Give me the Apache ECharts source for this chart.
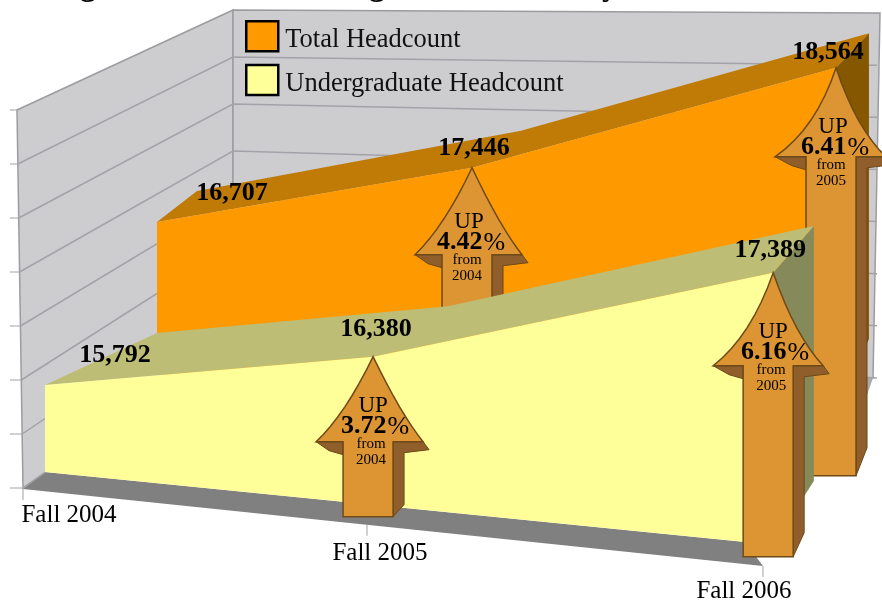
<!DOCTYPE html>
<html>
<head>
<meta charset="utf-8">
<style>
html, body { margin: 0; padding: 0; background: #fff; }
#main { width: 882px; height: 602px; }
</style>
<script src="https://cdn.jsdelivr.net/npm/echarts@6/dist/echarts.min.js"></script>
</head>
<body>
<div id="main"></div>
<script>
// chart data
var categories = ['Fall 2004', 'Fall 2005', 'Fall 2006'];
var totalHeadcount = [16707, 17446, 18564];
var undergradHeadcount = [15792, 16380, 17389];
var totalChange = [null, '4.42', '6.41'];
var undergradChange = [null, '3.72', '6.16'];
var changeFrom = [null, '2004', '2005'];
var seriesNames = ['Total Headcount', 'Undergraduate Headcount'];

var SERIF = '"Liberation Serif", serif';
var FLAT_MIN = 14550, FLAT_MAX = 20570; // flat value axis, 0.1 px per head over the 602px grid
var W = 882, H = 602;

// perspective planes: x(t) = (a*t + x0) / (1 + g*t), floor line y0..y1,
// height = flat height * scale / (1 + hg*t)
var undergradFront = { x0: 45, a: 589, g: -0.18, y0: 472, y1: 544.8, scale: 0.7005, hg: -0.269 };
var undergradBack = { x0: 157, a: 490, g: -0.205, y0: 412, y1: 481, scale: 0.636, hg: -0.292 };
var totalFront = { x0: 157, a: 566.5, g: -0.1346, y0: 375, y1: 414, scale: 0.709, hg: -0.178 };
var totalBack = { x0: 197, a: 612, g: -0.069, y0: 336, y1: 339, scale: 0.672, hg: -0.118 };
var floorFront = { x0: 23, a: 639.8, g: -0.1313, y0: 489, y1: 566, scale: 1, hg: 0 };

// takes the flat grid coordinate of (category, value) and bends it on to a plane
function project(api, plane, i, v) {
    var p = api.coord([i, v]);
    var t = p[0] / W;
    var x = (plane.a * t + plane.x0) / (1 + plane.g * t);
    var xEnd = (plane.a + plane.x0) / (1 + plane.g);
    var base = plane.y0 + (plane.y1 - plane.y0) * (x - plane.x0) / (xEnd - plane.x0);
    return [x, base - (H - p[1]) * plane.scale / (1 + plane.hg * t)];
}

function areaRender(values, front, back, colors) {
    return function (params, api) {
        if (params.dataIndex !== 0) return { type: 'group', children: [] };
        var n = values.length, i;
        var frontTop = [], backTop = [], frontBase = [];
        for (i = 0; i < n; i++) {
            frontTop.push(project(api, front, i, values[i]));
            backTop.push(project(api, back, i, values[i]));
            frontBase.push(project(api, front, i, FLAT_MIN));
        }
        var last = n - 1;
        var backBaseLast = project(api, back, last, FLAT_MIN);
        return {
            type: 'group',
            children: [{
                type: 'polygon',
                shape: { points: [frontTop[last], backTop[last], backBaseLast, frontBase[last]] },
                style: { fill: colors.side }
            }, {
                type: 'polygon',
                shape: { points: frontTop.concat(backTop.slice().reverse()) },
                style: { fill: colors.top }
            }, {
                type: 'polygon',
                shape: { points: frontTop.concat(frontBase.slice().reverse()) },
                style: { fill: colors.front }
            }]
        };
    };
}

function quad(a, c, b) {
    var pts = [];
    for (var k = 0; k <= 8; k++) {
        var s = k / 8;
        pts.push([
            (1 - s) * (1 - s) * a[0] + 2 * s * (1 - s) * c[0] + s * s * b[0],
            (1 - s) * (1 - s) * a[1] + 2 * s * (1 - s) * c[1] + s * s * b[1]
        ]);
    }
    return pts;
}

function textEl(x, y, text, font, extra) {
    var style = { text: text, fill: '#000', font: font, align: 'center', verticalAlign: 'middle' };
    if (extra) style.rich = extra;
    return { type: 'text', x: x, y: y, style: style };
}

function arrowEls(tip, s) {
    var x = tip[0], y = tip[1];
    var wy = y + s.head;
    var by = y + s.length;
    var lw = [x - s.wing, wy], rw = [x + 50, wy];
    var sl = x - 30, sr = x + 20, shr = x + 31;
    var left = quad([x, y], [x - s.bend, y + s.head * 0.68], lw);
    var right = quad(rw, [x + s.bend, y + s.head * 0.68], [x, y]);
    var body = left.concat([[sl, wy], [sl, by], [sr, by], [sr, wy]], right);
    return [{
        type: 'polygon',
        shape: { points: [lw, [sl, wy], [sl, wy + 13], [x - 44, wy + 9]] },
        style: { fill: '#8F5E2B', stroke: '#6E4A18', lineWidth: 1 }
    }, {
        type: 'polygon',
        shape: { points: [[sr, wy], rw, [x + 56, wy + 8], [shr, wy + 11], [shr, by - s.rise], [sr, by]] },
        style: { fill: '#8F5E2B', stroke: '#6E4A18', lineWidth: 1 }
    }, {
        type: 'polygon',
        shape: { points: body },
        style: { fill: '#DD9432', stroke: '#6E4A18', lineWidth: 1.5 }
    }];
}

function arrowText(tip, s, change, from) {
    var x = tip[0], wy = tip[1] + s.head;
    return [
        textEl(x + s.up, wy - s.text, 'UP', '23px ' + SERIF),
        textEl(x + s.up + 2, wy - s.text + 21, '{b|' + change + '}{p|%}', '26px ' + SERIF, {
            b: { font: 'bold 26px ' + SERIF, fill: '#000' },
            p: { font: '26px ' + SERIF, fill: '#000', padding: [0, 0, 0, 1] }
        }),
        textEl(x + s.up - 2, wy - s.text + 38, 'from', '15px ' + SERIF),
        textEl(x + s.up - 2, wy - s.text + 54, from, '15px ' + SERIF)
    ];
}

function arrowRender(values, changes, plane, specs, labelOffsets) {
    return function (params, api) {
        var i = params.dataIndex;
        var tip = project(api, plane, i, values[i]);
        var children = [];
        if (changes[i]) {
            children = arrowEls(tip, specs[i]).concat(arrowText(tip, specs[i], changes[i], changeFrom[i]));
        }
        var off = labelOffsets[i];
        children.push(textEl(tip[0] + off[0], tip[1] + off[1],
            values[i].toLocaleString('en-US'), 'bold 26px ' + SERIF));
        return { type: 'group', children: children };
    };
}

// arrow drawing sizes per category
var totalArrows = [null,
    { head: 87, length: 152, wing: 57, bend: 28, rise: 10, text: 33, up: -3 },
    { head: 89, length: 408, wing: 61, bend: 20, rise: 28, text: 30, up: -3 }];
var undergradArrows = [null,
    { head: 85, length: 160, wing: 57, bend: 28, rise: 12, text: 36, up: 0 },
    { head: 93, length: 284, wing: 60, bend: 22, rise: 24, text: 34, up: 0 }];
var totalLabelOffsets = [[75, -29], [2, -19], [-8, -15]];
var undergradLabelOffsets = [[70, -30], [3, -27], [-3, -22]];
var categoryLabelOffsets = [[46, 26], [13, 29], [-19, 25]];

// walls and gridlines behind the chart
var wallElements = [{
    type: 'polygon', z: -2,
    shape: { points: [[17, 110], [233, 10], [233, 339], [23, 488]] },
    style: { fill: '#CDCDD0', stroke: '#9C9CA0', lineWidth: 1.5 }
}, {
    type: 'polygon', z: -2,
    shape: { points: [[233, 10], [880, 13], [873, 378], [233, 339]] },
    style: { fill: '#CDCDD0', stroke: '#9C9CA0', lineWidth: 1.5 }
}, {
    type: 'polygon', z: -2,
    shape: { points: [[873, 378], [862, 378], [867, 395]] },
    style: { fill: '#A9A9AE' }
}, {
    type: 'polygon', z: -1,
    shape: { points: [[23, 489], [45, 472], [745, 542], [763, 566]] },
    style: { fill: '#808080' }
}];
for (var g = 1; g < 8; g++) {
    var f = g / 7;
    var lx = 17 + 6 * f, ly = 110 + 378 * f;
    var bxTop = 10 + 329 * f, brTop = 13 + 365 * f;
    wallElements.push({
        type: 'polyline', z: -1,
        shape: { points: [[lx, ly], [233, bxTop], [877, brTop]] },
        style: { fill: 'none', stroke: '#A2A2A8', lineWidth: 1.5 }
    });
}
for (var g2 = 0; g2 < 8; g2++) {
    var ly2 = 110 + 378 * g2 / 7;
    wallElements.push({
        type: 'line', z: -1,
        shape: { x1: 10, y1: ly2, x2: 17 + 6 * g2 / 7, y2: ly2 },
        style: { stroke: '#A2A2A8', lineWidth: 1 }
    });
}
// the bottom of the page title is cut off in the picture, only these descenders remain
[[88, 'g'], [377, 'g'], [610, 'y']].forEach(function (d) {
    wallElements.push({
        type: 'text', z: -1, x: d[0], y: -29,
        style: { text: d[1], font: 'bold 32px ' + SERIF, fill: '#000', align: 'center', verticalAlign: 'top' }
    });
});

var chart = echarts.init(document.getElementById('main'));
var indexData = function (values) {
    return values.map(function (v, i) { return [i, v]; });
};

var option = {
    animation: false,
    backgroundColor: '#fff',
    grid: { left: 0, top: 0, width: W, height: H, containLabel: false },
    xAxis: { type: 'value', min: 0, max: categories.length - 1, show: false },
    yAxis: { type: 'value', min: FLAT_MIN, max: FLAT_MAX, show: false },
    legend: {
        orient: 'vertical',
        left: 245, top: 20,
        padding: 0,
        itemWidth: 32, itemHeight: 30, itemGap: 10,
        selectedMode: false,
        data: seriesNames.map(function (name) { return { name: name, icon: 'rect' }; }),
        itemStyle: { borderColor: '#000', borderWidth: 2.5 },
        formatter: function (name) { return '{a|' + name + '}'; },
        textStyle: {
            rich: {
                a: { fontFamily: SERIF, fontSize: 26.5, color: '#111', padding: [8, 0, 0, 2] }
            }
        }
    },
    graphic: wallElements,
    series: [{
        name: seriesNames[0], type: 'custom', z: 2, itemStyle: { color: '#FF9900' },
        data: indexData(totalHeadcount),
        renderItem: areaRender(totalHeadcount, totalFront, totalBack, { front: '#FF9900', top: '#BF7B06', side: '#855800' })
    }, {
        type: 'custom', z: 3,
        data: indexData(totalHeadcount),
        renderItem: arrowRender(totalHeadcount, totalChange, totalFront, totalArrows, totalLabelOffsets)
    }, {
        name: seriesNames[1], type: 'custom', z: 4, itemStyle: { color: '#FFFF99' },
        data: indexData(undergradHeadcount),
        renderItem: areaRender(undergradHeadcount, undergradFront, undergradBack, { front: '#FFFF99', top: '#BDBD75', side: '#86895A' })
    }, {
        type: 'custom', z: 5,
        data: indexData(undergradHeadcount),
        renderItem: arrowRender(undergradHeadcount, undergradChange, undergradFront, undergradArrows, undergradLabelOffsets)
    }, {
        // category ticks and labels along the slanted floor edge
        type: 'custom', z: 6,
        data: categories.map(function (c, i) { return [i, FLAT_MIN]; }),
        renderItem: function (params, api) {
            var i = params.dataIndex;
            var p = project(api, floorFront, i, FLAT_MIN);
            return {
                type: 'group',
                children: [{
                    type: 'line',
                    shape: { x1: p[0], y1: p[1], x2: p[0], y2: p[1] + 11 },
                    style: { stroke: '#A2A2A8', lineWidth: 1 }
                }, textEl(p[0] + categoryLabelOffsets[i][0], p[1] + categoryLabelOffsets[i][1],
                    categories[i], '25px ' + SERIF)]
            };
        }
    }]
};
chart.setOption(option);
</script>
</body>
</html>
